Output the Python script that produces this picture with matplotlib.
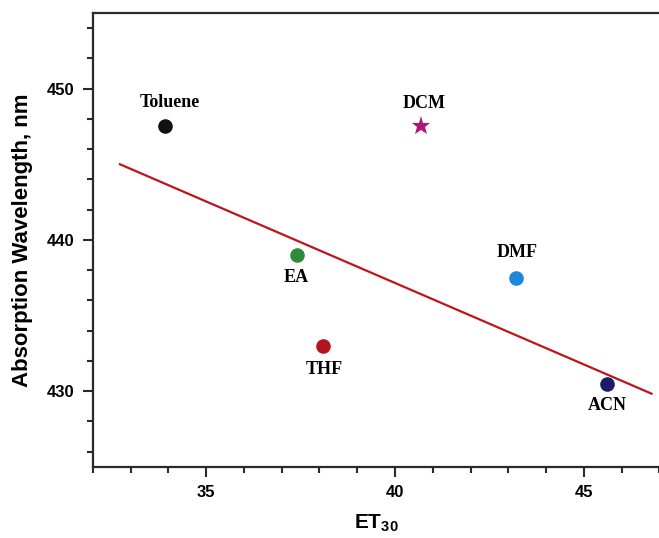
import matplotlib.pyplot as plt
from matplotlib.ticker import MultipleLocator

plt.rcParams['mathtext.fontset'] = 'custom'
plt.rcParams['mathtext.rm'] = 'Liberation Sans'
plt.rcParams['mathtext.bf'] = 'Liberation Sans:bold'

# solvent data
solvents = ['Toluene', 'EA', 'THF', 'DCM', 'DMF', 'ACN']
et30 = [33.9, 37.4, 38.1, 40.7, 43.2, 45.6]
wavelength = [447.5, 439.0, 433.0, 447.5, 437.5, 430.5]
markers = ['o', 'o', 'o', '*', 'o', 'o']
colors = ['#111111', '#2e8b3c', '#b3141e', '#b0167c', '#1c88dc', '#1c1a6a']
# label offsets in pixels (dx, dy)
label_offsets = [(5, 24), (-1, -23), (1, -24), (3, 23), (1, 25), (1, -22)]

# linear fit line end points
fit_x = [32.72, 46.79]
fit_y = [445.0, 429.83]

fig = plt.figure(figsize=(6.59, 5.38), dpi=100)
ax = fig.add_axes([0.1407, 0.1325, 0.8600, 0.8433])

ax.plot(fit_x, fit_y, color='#c0141c', linewidth=1.6, zorder=2)

for i in range(len(solvents)):
    ms = 14 if markers[i] == '*' else 10.5
    ax.plot(et30[i], wavelength[i], marker=markers[i], markersize=ms,
            color=colors[i], markeredgewidth=0, linestyle='none', zorder=3)
    ax.annotate(solvents[i], (et30[i], wavelength[i]), xytext=label_offsets[i],
                textcoords='offset pixels', ha='center', va='center',
                fontsize=13, fontweight='bold', family='Liberation Serif')

ax.set_xlim(32, 47)
ax.set_ylim(425, 455)
ax.xaxis.set_major_locator(MultipleLocator(5))
ax.xaxis.set_minor_locator(MultipleLocator(1))
ax.yaxis.set_major_locator(MultipleLocator(10))
ax.yaxis.set_minor_locator(MultipleLocator(2))

for s in ax.spines.values():
    s.set_linewidth(1.6)
    s.set_color('#2a2a2a')
ax.spines['right'].set_visible(False)
ax.tick_params(which='major', direction='out', length=7, width=1.5, color='#2a2a2a',
               pad=6)
ax.tick_params(which='minor', direction='out', length=4.5, width=1.5, color='#2a2a2a')
for lab in ax.get_xticklabels() + ax.get_yticklabels():
    lab.set_fontfamily('Liberation Sans')
    lab.set_fontweight('bold')
    lab.set_fontsize(12)

ax.set_xlabel(r'ET$_{\mathbf{30}}$', fontsize=15, fontweight='bold',
              family='Liberation Sans', labelpad=9)
ax.set_ylabel('Absorption Wavelength, nm', fontsize=16, fontweight='bold',
              family='Liberation Sans', labelpad=10)

fig.savefig('out.png', dpi=100)
